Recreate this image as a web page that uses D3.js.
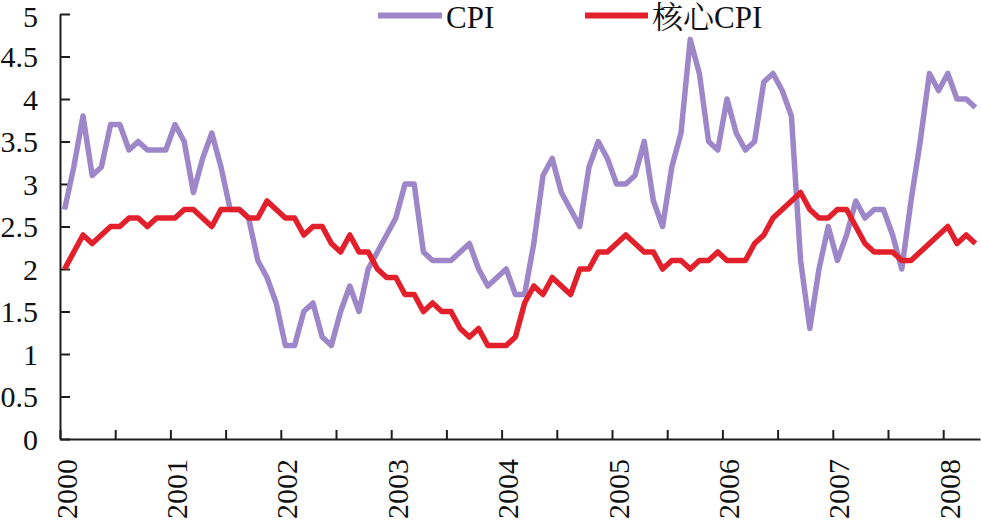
<!DOCTYPE html>
<html>
<head>
<meta charset="utf-8">
<script src="https://cdn.jsdelivr.net/npm/d3@7"></script>
<style>
  html, body { margin: 0; padding: 0; background: #fff; }
  svg { display: block; }
  text { font-family: "Liberation Serif", "Times New Roman", "Noto Serif CJK SC", "Noto Sans CJK SC", serif; fill: #111; }
</style>
</head>
<body>
<svg id="chart" width="981" height="522"></svg>
<script>
// Monthly data, Jan 2000 .. Apr 2008 (year-on-year %)
const cpi = [
  2.7,3.2,3.8,3.1,3.2,3.7,3.7,3.4,3.5,3.4,3.4,3.4,
  3.7,3.5,2.9,3.3,3.6,3.2,2.7,2.7,2.6,2.1,1.9,1.6,
  1.1,1.1,1.5,1.6,1.2,1.1,1.5,1.8,1.5,2.0,2.2,2.4,
  2.6,3.0,3.0,2.2,2.1,2.1,2.1,2.2,2.3,2.0,1.8,1.9,
  2.0,1.7,1.7,2.3,3.1,3.3,2.9,2.7,2.5,3.2,3.5,3.3,
  3.0,3.0,3.1,3.5,2.8,2.5,3.2,3.6,4.7,4.3,3.5,3.4,
  4.0,3.6,3.4,3.5,4.2,4.3,4.1,3.8,2.1,1.3,2.0,2.5,
  2.1,2.4,2.8,2.6,2.7,2.7,2.4,2.0,2.8,3.5,4.3,4.1,
  4.3,4.0,4.0,3.9
];
const coreCpi = [
  2.0,2.2,2.4,2.3,2.4,2.5,2.5,2.6,2.6,2.5,2.6,2.6,
  2.6,2.7,2.7,2.6,2.5,2.7,2.7,2.7,2.6,2.6,2.8,2.7,
  2.6,2.6,2.4,2.5,2.5,2.3,2.2,2.4,2.2,2.2,2.0,1.9,
  1.9,1.7,1.7,1.5,1.6,1.5,1.5,1.3,1.2,1.3,1.1,1.1,
  1.1,1.2,1.6,1.8,1.7,1.9,1.8,1.7,2.0,2.0,2.2,2.2,
  2.3,2.4,2.3,2.2,2.2,2.0,2.1,2.1,2.0,2.1,2.1,2.2,
  2.1,2.1,2.1,2.3,2.4,2.6,2.7,2.8,2.9,2.7,2.6,2.6,
  2.7,2.7,2.5,2.3,2.2,2.2,2.2,2.1,2.1,2.2,2.3,2.4,
  2.5,2.3,2.4,2.3
];
const years = ["2000","2001","2002","2003","2004","2005","2006","2007","2008"];
const yTicks = [0,0.5,1,1.5,2,2.5,3,3.5,4,4.5,5];
const seriesNames = ["CPI", "核心CPI"];
const seriesColors = ["#9d87c9", "#e2202b"];

(function () {
const svg = d3.select("#chart");
const mLeft = 60, mRight = 980, mTop = 14, mBottom = 439;
const nMonths = cpi.length;

const x = d3.scaleLinear().domain([0, nMonths]).range([mLeft, mRight]);
const y = d3.scaleLinear().domain([0, 5]).range([mBottom, mTop]);

// Y axis
const yAxis = d3.axisLeft(y)
  .tickValues(yTicks)
  .tickFormat(d => String(d))
  .tickSizeInner(-10)
  .tickSizeOuter(0)
  .tickPadding(22);
const gy = svg.append("g").attr("transform", `translate(${mLeft},0)`).call(yAxis);
gy.select(".domain").attr("stroke", "#1e1e1e").attr("stroke-width", 2);
gy.selectAll(".tick line").attr("stroke", "#1e1e1e").attr("stroke-width", 2);
gy.selectAll(".tick text")
  .style("font-size", "30px")
  .attr("fill", "#111")
  .attr("dy", d => d === 5 ? "0.42em" : "0.34em");

// X axis (ticks every 6 months, inward)
const xAxis = d3.axisBottom(x)
  .tickValues(d3.range(0, nMonths, 6))
  .tickFormat("")
  .tickSizeInner(-9)
  .tickSizeOuter(0);
const gx = svg.append("g").attr("transform", `translate(0,${mBottom})`).call(xAxis);
gx.select(".domain").attr("stroke", "#1e1e1e").attr("stroke-width", 2);
gx.selectAll(".tick line").attr("stroke", "#1e1e1e").attr("stroke-width", 2);

// Year labels, rotated
svg.append("g").selectAll("text")
  .data(years)
  .join("text")
  .attr("transform", (d, i) => `translate(${x(i * 12) + 16.5},459) rotate(-90)`)
  .attr("text-anchor", "end")
  .style("font-size", "30px")
  .text(d => d);

// Lines
const line = d3.line()
  .x((d, i) => x(i + 0.5))
  .y(d => y(d));

[cpi, coreCpi].forEach((s, k) => {
  svg.append("path")
    .datum(s)
    .attr("fill", "none")
    .attr("stroke", seriesColors[k])
    .attr("stroke-width", 5.5)
    .attr("stroke-linejoin", "round")
    .attr("d", line);
});

// Legend
const legendPos = [{x1: 378, x2: 442, tx: 446}, {x1: 585, x2: 648, tx: 652}];
const lg = svg.append("g");
seriesNames.forEach((name, k) => {
  const p = legendPos[k];
  lg.append("line")
    .attr("x1", p.x1).attr("x2", p.x2)
    .attr("y1", 15.5).attr("y2", 15.5)
    .attr("stroke", seriesColors[k])
    .attr("stroke-width", 6);
  lg.append("text")
    .attr("x", p.tx).attr("y", 27.8)
    .style("font-size", "31px")
    .text(name);
});
})();
</script>
</body>
</html>
